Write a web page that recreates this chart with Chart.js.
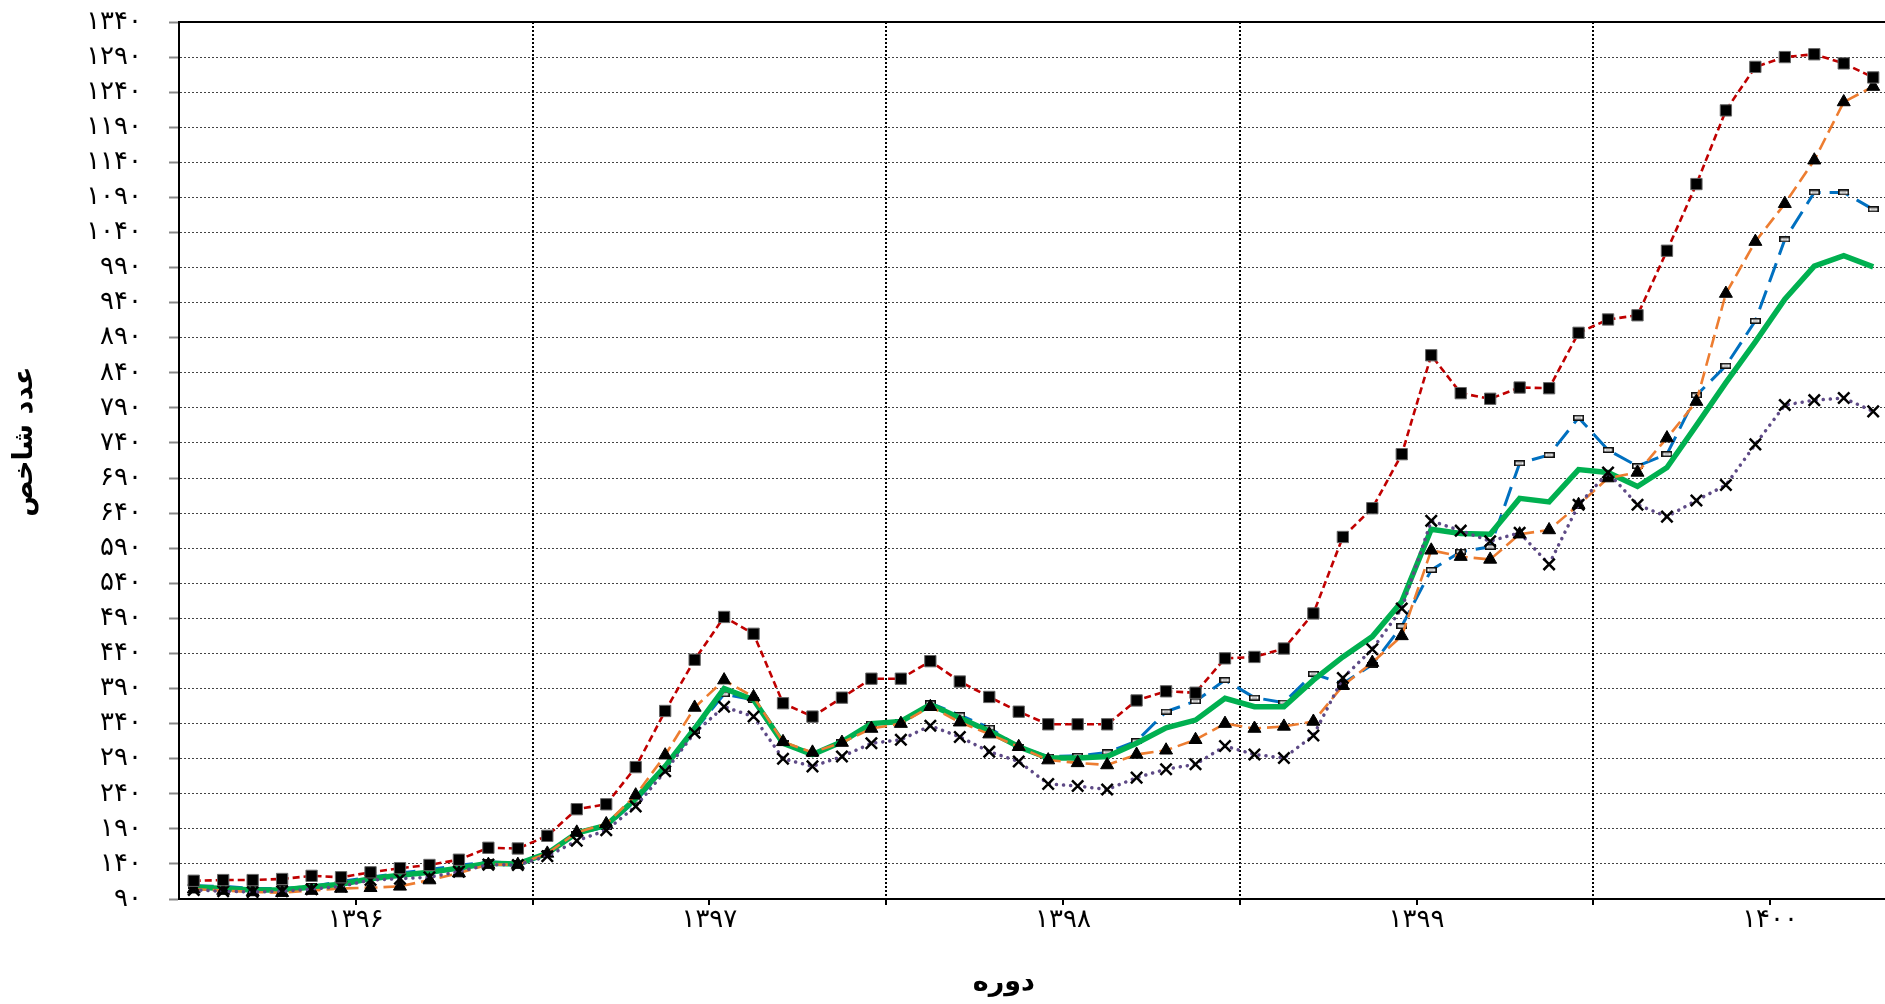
<!DOCTYPE html>
<html lang="fa">
<head>
<meta charset="utf-8">
<title>عدد شاخص</title>
<script src="https://cdn.jsdelivr.net/npm/chart.js@4.4.1/dist/chart.umd.min.js"></script>
<style>
  html, body { margin: 0; padding: 0; background: #fff; overflow: hidden; }
  #chart { display: block; }
</style>
</head>
<body>
<canvas id="chart" width="1885" height="1004"></canvas>
<script>
/* DATA */
const years = ["۱۳۹۶", "۱۳۹۷", "۱۳۹۸", "۱۳۹۹", "۱۴۰۰"];
const monthsPerYear = [12, 12, 12, 12, 10];

const redSeries = [116, 117, 117, 118.5, 123, 121, 128, 134, 138.5, 146,
  163, 162, 180, 218, 225, 278, 358, 431, 492, 468,
  369, 350, 377, 404, 404, 429, 400, 378, 357, 339,
  339, 339, 373, 386, 384, 433, 435, 447, 497, 606,
  647, 724, 865, 811, 803, 819, 818, 897, 916, 922,
  1014, 1109, 1214, 1276, 1290, 1294, 1281, 1261];
const orangeSeries = [104, 102, 100, 99, 102, 105, 106, 108, 117, 127,
  139, 139, 155, 185, 197, 238, 295, 363, 402, 378,
  314, 299, 313, 333, 340, 364, 342, 325, 307, 288,
  284, 281, 296, 302, 317, 340, 333, 336, 343, 394,
  427, 465, 587, 578, 574, 610, 616, 652, 690, 698,
  747, 799, 953, 1027, 1081, 1143, 1226, 1248];
const blueSeries = [109, 108, 105, 105, 108, 115, 121, 127, 132, 138,
  143, 141, 156, 183, 193, 230, 275, 330, 382, 374,
  313, 297, 314, 340, 342, 369, 352, 334, 307, 293,
  294, 299, 315, 357, 372, 402, 377, 370, 411, 397,
  424, 479, 559, 585, 592, 711, 723, 776, 730, 707,
  724, 808, 850, 914, 1030, 1097, 1097, 1073];
const greenSeries = [107, 105, 103, 103, 107, 111, 119, 124, 128, 134,
  141, 140, 155, 184, 195, 233, 279, 333, 390, 374,
  312, 296, 314, 340, 343, 367, 348, 329, 307, 291,
  291, 293, 312, 334, 345, 376, 364, 364, 402, 435,
  464, 514, 617, 611, 610, 661, 656, 702, 698, 678,
  705, 765, 826, 884, 945, 992, 1007, 991];
const purpleSeries = [103, 101, 100, 101, 104, 108, 117, 119, 121, 129,
  139, 138.5, 151, 173, 188, 222, 272, 327, 364, 350,
  290, 279, 293, 312, 317, 337, 321, 300, 286, 254,
  251, 246, 263, 275, 282, 308, 296, 291, 323, 405,
  446, 504, 629, 615, 600, 612, 567, 652, 698, 652,
  635, 658, 680, 738, 794, 801, 804, 785];

const yMin = 90;
const yMax = 1340;
const yStep = 50;
/* DATA END */

const faDigits = "۰۱۲۳۴۵۶۷۸۹";
const toFa = (n) => String(n).replace(/\d/g, (d) => faDigits[d]);
const nbsp = (n) => "\u00A0".repeat(n);

// one category per month, in order
const periods = [];
years.forEach((yr, k) => {
  for (let m = 1; m <= monthsPerYear[k]; m += 1) periods.push(`${yr}/${toFa(m)}`);
});

// year label sits in the middle of its 12 months, dotted line between years
const yearCenters = years.map((yr, k) => k * 12 + 5.5);
const yearBounds = years.slice(1).map((yr, k) => (k + 1) * 12 - 0.5);
const xTicks = [...yearCenters, ...yearBounds].sort((a, b) => a - b);

const toPoints = (arr) => arr.map((v, i) => ({ x: i, y: v }));

// no extra room for half labels around the plot
const noPad = (scale) => {
  scale.paddingTop = 0;
  scale.paddingBottom = 0;
  scale.paddingLeft = 0;
  scale.paddingRight = 0;
};

// little outlined bar used as the blue series marker
const dashMark = document.createElement("canvas");
dashMark.width = 11;
dashMark.height = 6;
const dm = dashMark.getContext("2d");
dm.fillStyle = "#fff";
dm.fillRect(0, 0, 11, 6);
dm.strokeStyle = "#111";
dm.lineWidth = 1.6;
dm.strokeRect(0.8, 0.8, 9.4, 4.4);
dm.fillStyle = "#9a9a9a";
dm.fillRect(3, 2.5, 5, 1);

Chart.defaults.font.family = "'DejaVu Sans', sans-serif";
Chart.defaults.color = "#000";

const ctx = document.getElementById("chart").getContext("2d");

new Chart(ctx, {
  type: "line",
  data: {
    labels: periods,
    datasets: [
      {
        label: "red",
        data: toPoints(redSeries),
        borderColor: "#C00000",
        borderWidth: 2.6,
        borderDash: [7, 4],
        pointStyle: "rect",
        pointRadius: 8,
        pointBackgroundColor: "#000",
        pointBorderColor: "#666",
        pointBorderWidth: 1,
      },
      {
        label: "purple",
        data: toPoints(purpleSeries),
        borderColor: "#5E4A86",
        borderWidth: 3.5,
        borderDash: [0.1, 7],
        borderCapStyle: "round",
        pointStyle: "crossRot",
        pointRadius: 8,
        pointBackgroundColor: "#000",
        pointBorderColor: "#000",
        pointBorderWidth: 2.5,
      },
      {
        label: "orange",
        data: toPoints(orangeSeries),
        borderColor: "#ED7D31",
        borderWidth: 2.6,
        borderDash: [13, 6],
        pointStyle: "triangle",
        pointRadius: 7.5,
        pointBackgroundColor: "#000",
        pointBorderColor: "#000",
        pointBorderWidth: 1,
      },
      {
        label: "green",
        data: toPoints(greenSeries),
        borderColor: "#00B050",
        borderWidth: 5.5,
        pointRadius: 0,
      },
      {
        label: "blue",
        data: toPoints(blueSeries),
        borderColor: "#0070C0",
        borderWidth: 3,
        borderDash: [20, 9],
        pointStyle: dashMark,
        pointRadius: 5,
      },
    ],
  },
  options: {
    responsive: false,
    animation: false,
    events: [],
    elements: { line: { tension: 0, fill: false } },
    layout: { autoPadding: false, padding: { left: 5, top: 22, right: 0, bottom: 0 } },
    plugins: {
      legend: { display: false },
      tooltip: { enabled: false },
    },
    scales: {
      x: {
        type: "linear",
        min: -0.5,
        max: 57.4,
        afterBuildTicks: (scale) => {
          scale.ticks = xTicks.map((v) => ({ value: v }));
        },
        afterFit: (scale) => {
          scale.height = 105;
          noPad(scale);
        },
        ticks: {
          autoSkip: false,
          maxRotation: 0,
          padding: 0,
          font: { size: 26 },
          callback: (v) => {
            const k = yearCenters.indexOf(v);
            return k >= 0 ? years[k] : "";
          },
        },
        grid: {
          color: (c) => (c.tick && yearBounds.includes(c.tick.value) ? "#000" : "rgba(0,0,0,0)"),
          lineWidth: 2,
          tickColor: "#000",
          tickLength: 6,
          tickWidth: 2,
        },
        border: { color: "#000", width: 2, dash: [2, 2] },
        title: {
          display: true,
          // trailing spaces pull the word a little left of centre, as in the original
          text: `دوره${nbsp(6)}`,
          font: { size: 27, weight: "bold" },
          padding: { top: 0, bottom: 5 },
        },
      },
      xTop: {
        type: "linear",
        position: "top",
        min: 0,
        max: 1,
        afterFit: noPad,
        ticks: { display: false },
        grid: { display: false, drawTicks: false },
        border: { display: true, color: "#000", width: 2 },
      },
      y: {
        min: yMin,
        max: yMax,
        afterFit: (scale) => {
          scale.width = 174;
          noPad(scale);
        },
        ticks: {
          stepSize: yStep,
          padding: 27,
          font: { size: 26 },
          callback: (v) => toFa(v),
        },
        grid: {
          color: "#444",
          lineWidth: 1,
          tickColor: "#888",
          tickLength: 10,
          tickWidth: 2,
        },
        border: { color: "#000", width: 2, dash: [2, 2] },
        title: {
          display: true,
          text: `${nbsp(4)}عدد شاخص`,
          font: { size: 27, weight: "bold" },
          padding: { top: 4, bottom: 0 },
        },
      },
    },
  },
});
</script>
</body>
</html>
